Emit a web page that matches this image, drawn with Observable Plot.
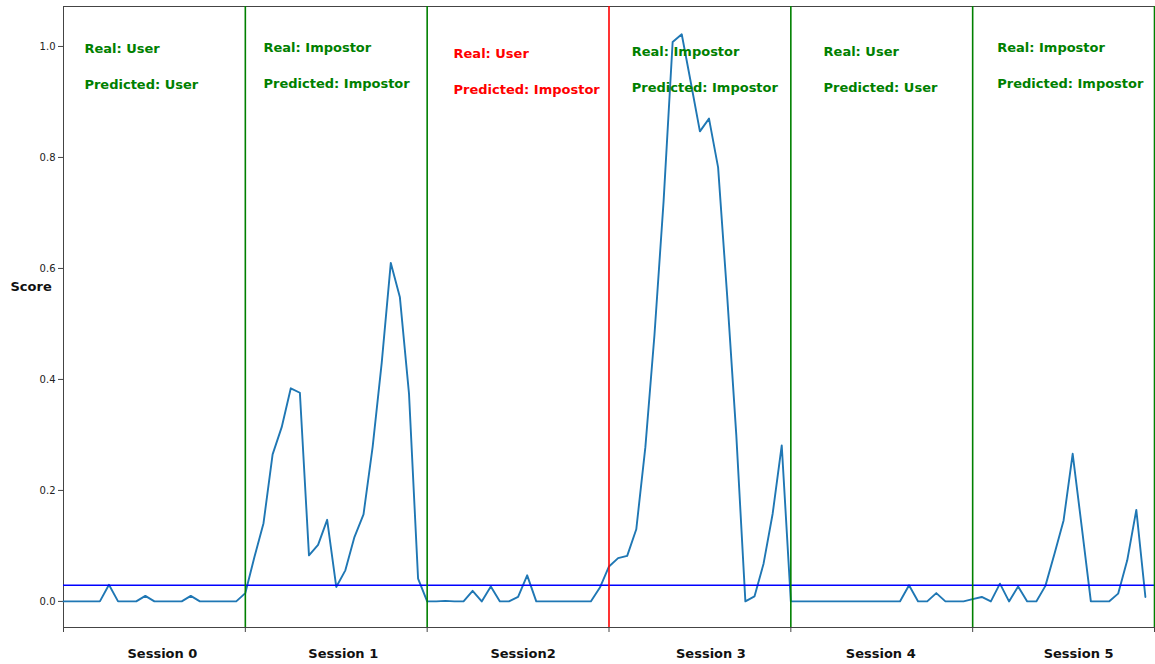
<!DOCTYPE html>
<html>
<head>
<meta charset="utf-8">
<script src="https://cdn.jsdelivr.net/npm/d3@7"></script>
<script src="https://cdn.jsdelivr.net/npm/@observablehq/plot@0.6"></script>
<style>
  html, body { margin: 0; padding: 0; background: #fff; }
  #chart svg { display: block; }
</style>
</head>
<body>
<div id="chart"></div>
<script>
// ---- data ----
const sessions = ["Session 0", "Session 1", "Session2", "Session 3", "Session 4", "Session 5"];
const realLabels = ["User", "Impostor", "User", "Impostor", "User", "Impostor"];
const predictedLabels = ["User", "Impostor", "Impostor", "Impostor", "User", "Impostor"];
const threshold = 0.029;
const pointsPerSession = 20;
const scores = [
  // Session 0
  0, 0, 0, 0, 0, 0.03, 0, 0, 0, 0.01, 0, 0, 0, 0, 0.01, 0, 0, 0, 0, 0,
  // Session 1
  0.015, 0.08, 0.141, 0.265, 0.314, 0.384, 0.376, 0.083, 0.102, 0.147,
  0.026, 0.056, 0.116, 0.157, 0.278, 0.43, 0.61, 0.548, 0.375, 0.041,
  // Session 2
  0, 0, 0.001, 0, 0, 0.019, 0, 0.027, 0, 0, 0.008, 0.047, 0, 0, 0, 0, 0, 0, 0, 0.025,
  // Session 3
  0.063, 0.078, 0.082, 0.13, 0.278, 0.48, 0.72, 1.008, 1.022, 0.935,
  0.847, 0.87, 0.782, 0.55, 0.3, 0, 0.009, 0.068, 0.158, 0.281,
  // Session 4
  0, 0, 0, 0, 0, 0, 0, 0, 0, 0, 0, 0, 0, 0.029, 0, 0, 0.015, 0, 0, 0,
  // Session 5
  0.004, 0.008, 0, 0.032, 0, 0.027, 0, 0, 0.028, 0.086,
  0.146, 0.266, 0.134, 0, 0, 0, 0.014, 0.074, 0.165, 0.008
];
// annotation anchor (data units, as placed in the source chart)
const noteX = [2.3, 22.0, 42.9, 62.5, 83.6, 102.7];
const noteY = [0.995, 0.998, 0.987, 0.991, 0.991, 0.998];
// session label nudges (px)
const sessionLabelShift = [8, 7, 5, 11, -1, 15];
const yTicks = [0, 0.2, 0.4, 0.6, 0.8, 1.0];

// ---- derived tables ----
const series = scores.map((v, i) => ({i, v}));
const boundaries = sessions.map((s, k) => ({
  x: (k + 1) * pointsPerSession,
  ok: realLabels[k] === predictedLabels[k]
}));
const notes = sessions.map((s, k) => ({
  x: noteX[k], y: noteY[k],
  real: "Real: " + realLabels[k],
  pred: "Predicted: " + predictedLabels[k],
  ok: realLabels[k] === predictedLabels[k]
}));
const xTicks = d3.range(0, sessions.length * pointsPerSession + 1, pointsPerSession);
const green = "#008000", red = "#ff0000";
const font = "DejaVu Sans, sans-serif";

const plot = Plot.plot({
  width: 1155,
  height: 664,
  marginLeft: 63,
  marginRight: 1,
  marginTop: 6,
  marginBottom: 37,
  style: {fontFamily: font, color: "#222", background: "#fff"},
  x: {domain: [0, sessions.length * pointsPerSession]},
  y: {domain: [-0.047, 1.072]},
  marks: [
    Plot.frame({stroke: "#444", strokeWidth: 1}),
    Plot.axisY({ticks: yTicks, tickFormat: d3.format(".1f"), tickSize: 5, tickPadding: 3, fontSize: 10, label: null, stroke: "#444"}),
    Plot.axisX({ticks: xTicks, tickSize: 5, tickFormat: () => "", label: null, stroke: "#444"}),
    Plot.line(series, {x: "i", y: "v", stroke: "#1f77b4", strokeWidth: 1.9}),
    Plot.ruleY([threshold], {stroke: "#0000ff", strokeWidth: 1.6}),
    Plot.ruleX(boundaries, {x: "x", stroke: d => d.ok ? green : red, strokeWidth: 1.6}),
    Plot.text(notes, {x: "x", y: "y", text: "real", fill: d => d.ok ? green : red,
      textAnchor: "start", lineAnchor: "middle", fontSize: 13, fontWeight: "bold"}),
    Plot.text(notes, {x: "x", y: "y", text: "pred", fill: d => d.ok ? green : red,
      textAnchor: "start", lineAnchor: "middle", fontSize: 13, fontWeight: "bold", dy: 36}),
    Plot.text(sessions.map((s, k) => ({s, x: k * pointsPerSession + pointsPerSession / 2 + sessionLabelShift[k] / 9.09})), {
      x: "x", text: "s", frameAnchor: "bottom", dy: 26, lineAnchor: "middle",
      fontSize: 13, fontWeight: "bold", fill: "#111"}),
    Plot.text(["Score"], {text: d => d, frameAnchor: "left", dx: -53, dy: -30, textAnchor: "start",
      lineAnchor: "middle", fontSize: 13, fontWeight: "bold", fill: "#111"})
  ]
});
document.getElementById("chart").appendChild(plot);
</script>
</body>
</html>
